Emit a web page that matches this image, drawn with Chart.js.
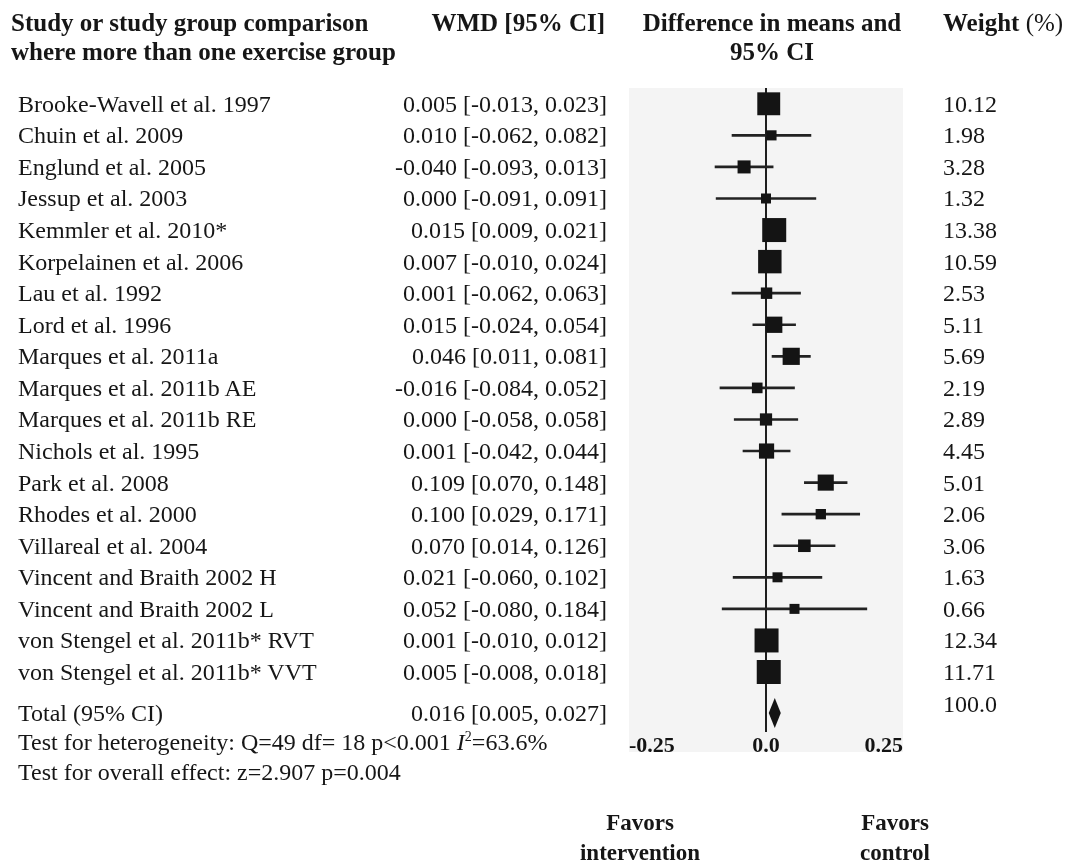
<!DOCTYPE html>
<html>
<head>
<meta charset="utf-8">
<script src="https://cdn.jsdelivr.net/npm/chart.js@4.4.0/dist/chart.umd.min.js"></script>
<style>
  html, body { margin: 0; padding: 0; background: #fff; }
  #wrap { position: relative; width: 1073px; height: 864px; overflow: hidden;
          font-family: 'Liberation Serif', 'Times New Roman', serif; color: #161616; }
  #forest { position: absolute; left: 0; top: 0; }
  .t { position: absolute; white-space: nowrap; font-size: 24px; line-height: 24px; transform: translateY(-50%); }
  .h { font-weight: bold; font-size: 25px; }
  .r { transform: translate(-100%, -50%); }
  .c { transform: translate(-50%, -50%); }
  sup { font-size: 14px; line-height: 0; vertical-align: 9px; }
</style>
</head>
<body>
<div id="wrap">
  <canvas id="forest" width="1073" height="864"></canvas>

  <!-- column headers -->
  <div class="t h" style="left:11px; top:23px;">Study or study group comparison</div>
  <div class="t h" style="left:11px; top:52px;">where more than one exercise group</div>
  <div class="t h r" style="left:605px; top:23px;">WMD [95% CI]</div>
  <div class="t h c" style="left:772px; top:23px;">Difference in means and</div>
  <div class="t h c" style="left:772px; top:52px;">95% CI</div>
  <div class="t h" style="left:943px; top:23px;">Weight <span style="font-weight:normal">(%)</span></div>

  <!-- summary statistics -->
  <div class="t" style="left:18px; top:742px;">Test for heterogeneity: Q=49 df= 18 p&lt;0.001 <i>I</i><sup>2</sup>=63.6%</div>
  <div class="t" style="left:18px; top:772px;">Test for overall effect: z=2.907 p=0.004</div>

  <!-- direction labels -->
  <div class="t h c" style="left:640px; top:823px; font-size:23px;">Favors</div>
  <div class="t h c" style="left:640px; top:853px; font-size:23px;">intervention</div>
  <div class="t h c" style="left:895px; top:823px; font-size:23px;">Favors</div>
  <div class="t h c" style="left:895px; top:853px; font-size:23px;">control</div>

  <div id="rows"></div>
</div>

<script>
// ---- data ----
const studies = [
  'Brooke-Wavell et al. 1997',
  'Chuin et al. 2009',
  'Englund et al. 2005',
  'Jessup et al. 2003',
  'Kemmler et al. 2010*',
  'Korpelainen et al. 2006',
  'Lau et al. 1992',
  'Lord et al. 1996',
  'Marques et al. 2011a',
  'Marques et al. 2011b AE',
  'Marques et al. 2011b RE',
  'Nichols et al. 1995',
  'Park et al. 2008',
  'Rhodes et al. 2000',
  'Villareal et al. 2004',
  'Vincent and Braith 2002 H',
  'Vincent and Braith 2002 L',
  'von Stengel et al. 2011b* RVT',
  'von Stengel et al. 2011b* VVT'
];
const wmd    = [0.005, 0.010, -0.040, 0.000, 0.015, 0.007, 0.001, 0.015, 0.046, -0.016, 0.000, 0.001, 0.109, 0.100, 0.070, 0.021, 0.052, 0.001, 0.005];
const ciLow  = [-0.013, -0.062, -0.093, -0.091, 0.009, -0.010, -0.062, -0.024, 0.011, -0.084, -0.058, -0.042, 0.070, 0.029, 0.014, -0.060, -0.080, -0.010, -0.008];
const ciHigh = [0.023, 0.082, 0.013, 0.091, 0.021, 0.024, 0.063, 0.054, 0.081, 0.052, 0.058, 0.044, 0.148, 0.171, 0.126, 0.102, 0.184, 0.012, 0.018];
const weights = [10.12, 1.98, 3.28, 1.32, 13.38, 10.59, 2.53, 5.11, 5.69, 2.19, 2.89, 4.45, 5.01, 2.06, 3.06, 1.63, 0.66, 12.34, 11.71];

const totalLabel = 'Total (95% CI)';
const totalEffect = [0.016, 0.005, 0.027];   // estimate, low, high
const totalWeight = '100.0';

const xTicks = [-0.25, 0, 0.25];
const xTickLabels = ['-0.25', '0.0', '0.25'];

// ---- layout helpers ----
const rowIndex = studies.map((_, i) => i);
const totalRow = 19.3;
const totalWeightRow = 19;
const ink = '#141414';

// square size grows with study weight
function boxSide(w) {
  return Math.max(10, Math.min(24, Math.sqrt(w) * 7.2));
}

function ciText(m, lo, hi) {
  return m.toFixed(3) + ' [' + lo.toFixed(3) + ', ' + hi.toFixed(3) + ']';
}

// light grey plot panel, extended down behind the tick labels
const panelFill = {
  id: 'panelFill',
  beforeDraw(chart) {
    const { ctx, chartArea } = chart;
    ctx.save();
    ctx.fillStyle = '#f4f4f4';
    ctx.fillRect(chartArea.left, chartArea.top, chartArea.right - chartArea.left, chartArea.bottom + 20 - chartArea.top);
    ctx.restore();
  }
};

// pooled estimate diamond
const diamond = {
  id: 'diamond',
  afterDatasetsDraw(chart) {
    const { ctx, scales } = chart;
    const yc = scales.y.getPixelForValue(totalRow);
    const xm = scales.x.getPixelForValue(totalEffect[0]);
    const xl = scales.x.getPixelForValue(totalEffect[1]);
    const xr = scales.x.getPixelForValue(totalEffect[2]);
    ctx.save();
    ctx.fillStyle = ink;
    ctx.beginPath();
    ctx.moveTo(xl, yc);
    ctx.lineTo(xm, yc - 15);
    ctx.lineTo(xr, yc);
    ctx.lineTo(xm, yc + 15);
    ctx.closePath();
    ctx.fill();
    ctx.restore();
  }
};

const chart = new Chart(document.getElementById('forest'), {
  type: 'scatter',
  data: {
    datasets: [
      {
        type: 'bar',
        indexAxis: 'y',
        data: rowIndex.map(i => ({ x: [ciLow[i], ciHigh[i]], y: i })),
        backgroundColor: '#222',
        barThickness: 2,
        order: 2
      },
      {
        type: 'scatter',
        data: rowIndex.map(i => ({ x: wmd[i], y: i })),
        pointStyle: 'rect',
        pointRadius: weights.map(w => boxSide(w) / Math.SQRT2),
        pointBackgroundColor: ink,
        pointBorderWidth: 0,
        order: 1
      }
    ]
  },
  options: {
    responsive: false,
    animation: false,
    devicePixelRatio: 1,
    layout: { padding: { left: 629, right: 170, top: 88, bottom: 98 } },
    plugins: {
      legend: { display: false },
      tooltip: { enabled: false }
    },
    scales: {
      x: {
        type: 'linear',
        min: -0.25,
        max: 0.25,
        offset: false,
        afterBuildTicks: s => { s.ticks = xTicks.map(v => ({ value: v })); },
        afterFit: s => { s.height = 34; },
        ticks: {
          align: 'inner',
          padding: 1,
          color: ink,
          font: { family: 'Liberation Serif', size: 22, weight: 'bold' },
          callback: v => xTickLabels[xTicks.indexOf(v)]
        },
        grid: {
          drawTicks: false,
          lineWidth: 2,
          color: c => (c.tick && c.tick.value === 0 ? '#1e1e1e' : 'rgba(0,0,0,0)')
        },
        border: { display: false }
      },
      y: {
        type: 'linear',
        display: false,
        reverse: true,
        min: -0.5,
        max: 19.9,
        offset: false
      }
    }
  },
  plugins: [panelFill, diamond]
});

// ---- table text, placed on the chart's own row scale ----
const rowsDiv = document.getElementById('rows');
function addText(text, x, y, cls) {
  const d = document.createElement('div');
  d.className = cls;
  d.style.left = x + 'px';
  d.style.top = y + 'px';
  d.textContent = text;
  rowsDiv.appendChild(d);
}

const ys = chart.scales.y;
studies.forEach((name, i) => {
  const y = ys.getPixelForValue(i);
  addText(name, 18, y, 't');
  addText(ciText(wmd[i], ciLow[i], ciHigh[i]), 607, y, 't r');
  addText(weights[i].toFixed(2), 943, y, 't');
});
const yt = ys.getPixelForValue(totalRow);
addText(totalLabel, 18, yt, 't');
addText(ciText(totalEffect[0], totalEffect[1], totalEffect[2]), 607, yt, 't r');
addText(totalWeight, 943, ys.getPixelForValue(totalWeightRow), 't');
</script>
</body>
</html>
